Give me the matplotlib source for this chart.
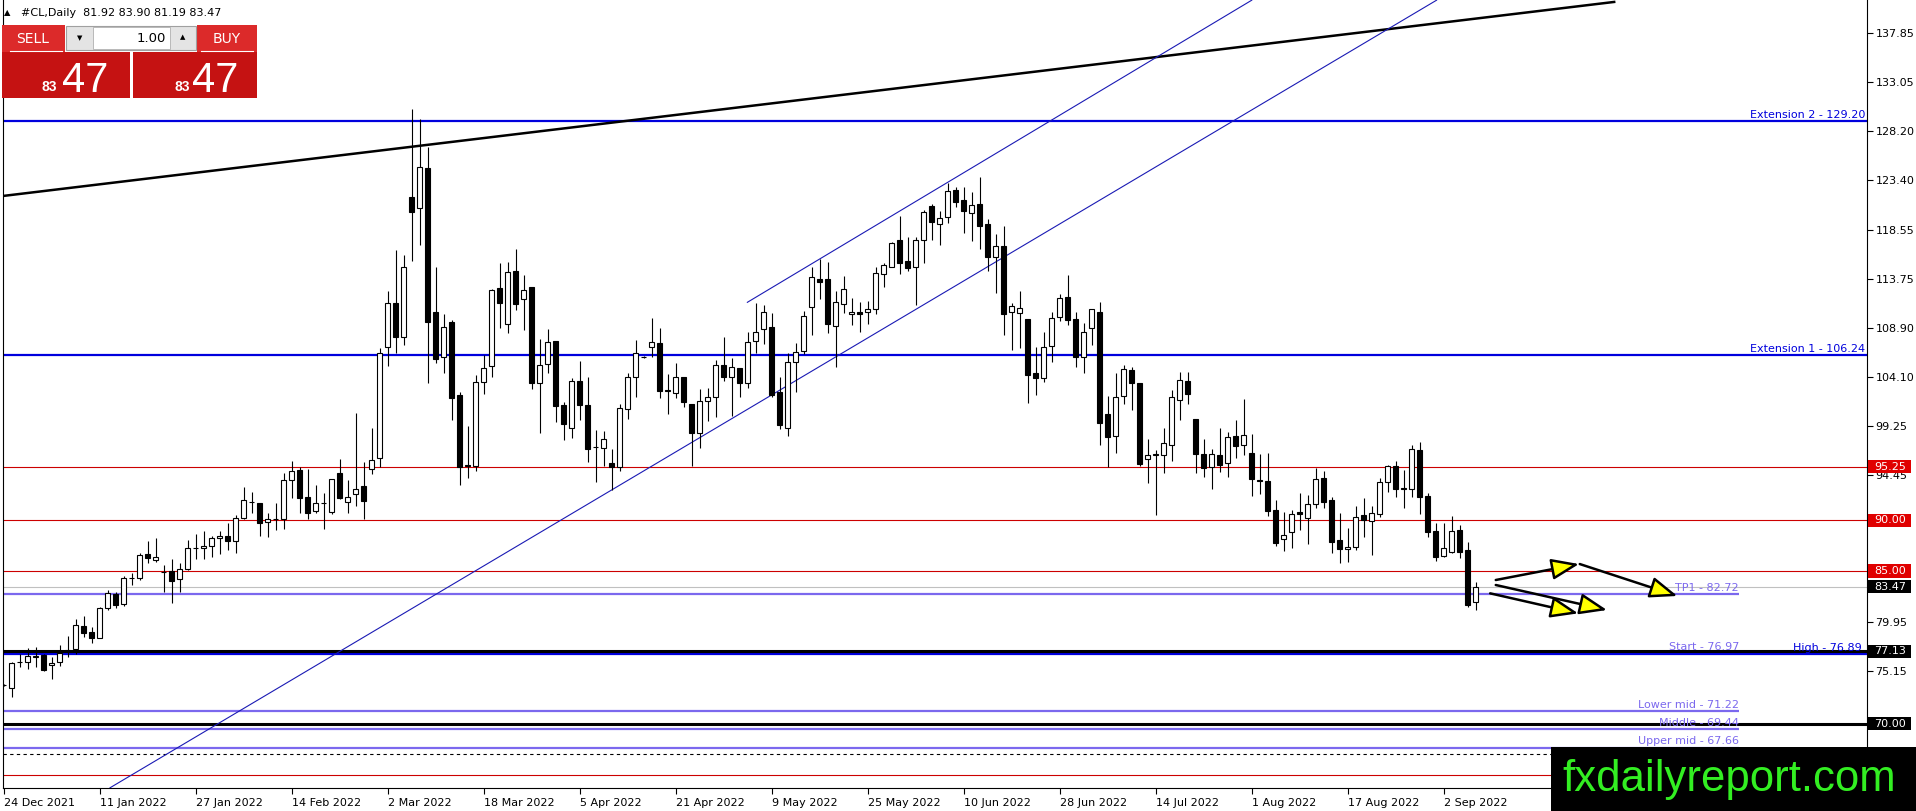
import numpy as np
import pandas as pd
import matplotlib
matplotlib.use('Agg')
import matplotlib.pyplot as plt
from matplotlib.patches import Rectangle, FancyArrowPatch
from matplotlib.transforms import blended_transform_factory

# daily bars of #CL, 24 Dec 2021 .. 8 Sep 2022
dates = pd.bdate_range('2021-12-24', '2022-09-08')

opens = [73.80, 73.48, 76.05, 76.10, 76.60, 76.72, 75.74, 76.10, 77.20, 77.31,
         79.64, 78.98, 78.46, 81.34, 82.75, 81.77, 84.33, 84.36, 86.68, 86.09,
         84.90, 85.01, 84.19, 85.24, 87.28, 87.30, 87.50, 88.22, 88.45, 87.99,
         90.19, 91.82, 91.66, 89.86, 90.07, 90.09, 93.95, 94.93, 92.30, 90.90,
         91.68, 90.84, 94.60, 91.75, 92.54, 93.36, 95.00, 96.08, 107.05, 111.31,
         107.97, 121.73, 120.65, 124.58, 110.43, 106.00, 109.44, 102.30, 95.38, 95.36,
         103.61, 105.15, 112.79, 109.25, 114.49, 111.74, 112.88, 103.45, 105.35, 107.61,
         101.32, 99.03, 103.68, 101.32, 97.20, 97.13, 95.59, 95.26, 100.90, 104.10,
         106.00, 107.05, 107.38, 102.78, 102.53, 104.04, 101.42, 98.60, 101.74, 102.14,
         105.25, 104.04, 104.92, 103.51, 107.61, 108.76, 109.02, 102.56, 99.03, 105.58,
         106.66, 110.98, 113.67, 113.67, 109.08, 111.25, 110.23, 110.43, 110.43, 110.72,
         114.20, 114.91, 117.53, 115.47, 114.85, 117.53, 120.88, 119.07, 119.76, 122.45,
         121.47, 120.16, 121.07, 119.11, 115.90, 116.95, 110.43, 110.33, 109.74, 104.43,
         104.00, 107.15, 110.00, 111.97, 109.74, 106.00, 108.85, 110.49, 100.40, 98.27,
         102.24, 104.76, 103.45, 95.98, 96.45, 96.40, 97.39, 101.81, 103.71, 99.91,
         96.51, 95.20, 96.41, 95.59, 98.28, 97.36, 96.57, 93.90, 93.85, 91.00,
         88.12, 88.87, 90.77, 90.19, 91.56, 94.12, 91.99, 88.02, 87.14, 87.34,
         90.48, 89.92, 90.58, 93.72, 95.36, 93.12, 93.10, 96.87, 92.38, 88.94,
         86.52, 86.91, 89.04, 87.07, 81.92]

highs = [73.90, 76.10, 76.86, 77.41, 77.58, 76.85, 76.59, 77.74, 78.62, 80.33,
         80.59, 79.48, 81.51, 83.14, 82.98, 84.52, 84.85, 86.75, 87.93, 88.26,
         85.60, 86.16, 85.77, 88.06, 88.65, 88.94, 88.45, 88.94, 89.76, 90.51,
         93.23, 92.74, 91.70, 90.68, 91.73, 94.67, 95.82, 95.26, 95.00, 93.46,
         92.70, 94.05, 96.01, 93.95, 100.57, 95.75, 99.03, 106.89, 112.56, 116.55,
         116.06, 130.38, 129.39, 126.71, 114.85, 110.23, 109.67, 102.56, 99.26, 104.27,
         106.23, 112.69, 115.24, 115.41, 116.62, 114.10, 112.88, 107.77, 108.79, 107.61,
         101.65, 103.94, 105.64, 104.10, 98.86, 98.76, 96.96, 101.42, 104.50, 107.71,
         106.10, 109.84, 108.85, 104.37, 105.41, 104.04, 101.42, 102.86, 103.02, 105.74,
         107.97, 105.91, 104.92, 108.53, 111.31, 111.15, 110.39, 104.10, 106.40, 107.45,
         110.59, 114.85, 115.63, 115.41, 112.52, 114.03, 111.87, 111.41, 111.57, 114.85,
         115.24, 117.37, 119.93, 117.80, 117.80, 120.48, 121.07, 120.39, 123.17, 122.78,
         122.71, 122.28, 123.69, 119.57, 118.12, 118.91, 111.31, 112.52, 109.74, 107.05,
         108.53, 110.49, 112.23, 114.10, 110.43, 109.35, 110.72, 111.47, 102.20, 104.50,
         105.25, 105.09, 103.45, 97.94, 96.90, 99.03, 102.79, 104.60, 104.60, 99.91,
         97.95, 96.97, 99.03, 98.70, 99.85, 101.91, 98.47, 96.51, 96.64, 91.99,
         90.84, 91.00, 92.71, 92.48, 95.10, 94.84, 92.25, 90.68, 89.20, 91.43,
         92.15, 91.40, 94.18, 95.43, 95.82, 94.98, 97.39, 97.69, 92.71, 89.76,
         89.76, 90.41, 89.53, 87.83, 83.90]

lows = [73.70, 72.66, 75.61, 75.42, 75.55, 75.22, 74.37, 75.68, 76.59, 76.82,
        78.56, 77.90, 78.40, 81.18, 81.34, 81.57, 83.64, 84.13, 85.83, 85.93,
        82.95, 81.90, 82.95, 85.11, 86.22, 86.19, 86.35, 86.68, 87.07, 86.81,
        90.16, 90.74, 88.48, 88.38, 89.04, 89.14, 92.15, 90.67, 90.12, 90.67,
        89.10, 90.60, 92.05, 90.67, 91.43, 90.12, 94.50, 95.26, 105.18, 106.46,
        107.22, 115.47, 117.04, 103.51, 105.48, 104.50, 99.84, 93.46, 94.11, 94.86,
        102.40, 104.04, 108.85, 108.36, 110.66, 108.69, 102.86, 98.53, 104.50, 99.68,
        97.88, 98.04, 99.84, 95.75, 93.79, 95.32, 92.97, 94.87, 99.91, 102.14,
        105.90, 106.00, 101.97, 100.43, 101.97, 101.09, 95.32, 97.06, 99.78, 100.17,
        103.71, 100.24, 102.07, 102.96, 106.46, 107.28, 102.14, 98.93, 98.27, 102.63,
        106.30, 108.20, 111.70, 108.43, 105.09, 110.33, 109.18, 108.53, 109.28, 110.26,
        112.88, 114.85, 114.20, 114.52, 111.15, 115.24, 117.53, 117.04, 119.24, 120.75,
        118.26, 117.47, 116.62, 114.52, 112.29, 108.20, 106.72, 106.89, 101.48, 102.30,
        103.61, 105.58, 109.61, 109.18, 105.09, 104.50, 107.22, 97.39, 95.26, 96.57,
        101.42, 100.83, 95.32, 93.69, 90.51, 94.60, 95.85, 99.84, 101.42, 94.60,
        94.28, 93.03, 94.77, 94.28, 96.08, 96.41, 92.38, 92.58, 90.41, 87.47,
        87.01, 87.30, 89.04, 87.66, 91.23, 91.17, 86.81, 85.76, 85.93, 87.07,
        88.38, 86.58, 90.35, 92.81, 92.31, 91.17, 92.31, 90.58, 88.38, 86.02,
        86.42, 86.81, 86.25, 81.50, 81.19]

closes = [73.80, 76.00, 76.10, 76.66, 76.62, 75.28, 76.00, 76.92, 77.25, 79.71,
          78.95, 78.46, 81.34, 82.82, 81.67, 84.29, 84.36, 86.58, 86.26, 86.42,
          84.88, 84.03, 85.18, 87.24, 87.30, 87.50, 88.22, 88.45, 87.99, 90.19,
          91.99, 91.79, 89.76, 90.09, 90.09, 93.95, 94.87, 92.15, 90.67, 91.66,
          91.66, 94.01, 92.21, 92.25, 93.03, 91.92, 95.91, 106.40, 111.38, 108.04,
          114.91, 120.32, 124.74, 109.51, 105.81, 109.02, 101.97, 95.26, 95.36, 103.61,
          104.92, 112.62, 111.38, 114.36, 111.21, 112.62, 103.45, 105.25, 107.48, 101.22,
          99.42, 103.68, 101.32, 96.96, 97.22, 97.94, 95.26, 101.00, 104.10, 106.40,
          106.00, 107.48, 102.73, 102.73, 104.04, 101.65, 98.60, 101.71, 102.07, 105.25,
          104.10, 105.09, 103.45, 107.54, 108.53, 110.49, 102.30, 99.35, 105.58, 106.56,
          110.10, 113.87, 113.44, 109.28, 111.47, 112.69, 110.49, 110.23, 110.72, 114.26,
          115.08, 117.21, 115.24, 114.75, 117.53, 120.32, 119.34, 119.73, 122.38, 121.30,
          120.42, 120.97, 118.91, 115.83, 116.98, 110.26, 111.05, 110.82, 104.27, 104.00,
          107.05, 109.84, 111.80, 109.67, 106.00, 108.53, 110.72, 99.58, 98.14, 102.14,
          104.82, 103.45, 95.52, 96.40, 96.50, 97.55, 102.07, 103.78, 102.37, 96.51,
          95.10, 96.47, 95.43, 98.15, 97.33, 98.34, 94.08, 93.85, 90.94, 87.73,
          88.51, 90.58, 90.58, 91.56, 94.02, 91.82, 87.89, 87.14, 87.34, 90.35,
          90.02, 90.74, 93.79, 95.36, 93.03, 93.10, 96.97, 92.31, 88.87, 86.42,
          87.24, 88.94, 86.91, 81.67, 83.47]

price_ticks = [137.85, 133.05, 128.20, 123.40, 118.55, 113.75, 108.90, 104.10,
               99.25, 94.45, 89.60, 84.80, 79.95, 75.15, 70.30, 65.50]
hidden_ticks = [89.60, 84.80, 65.50]   # covered by level boxes / watermark

ext_levels = [129.20, 106.24]
ext_names = ['Extension 2', 'Extension 1']
red_levels = [95.25, 90.00, 85.00, 65.00]
black_levels = [77.13, 70.00]
fib_levels = [82.72, 76.97, 71.22, 69.44, 67.66]
fib_names = ['TP1', 'Start', 'Lower mid', 'Middle', 'Upper mid']
fib_end = 216.9
high_level = 76.89
dashed_level = 67.05
bid = closes[-1]

# drawing objects: (bar index, price)
trend_black = [(-0.1, 121.86), (201.3, 140.93)]
channel_low = [(13.3, 63.70), (179.1, 141.10)]
channel_up = [(92.96, 111.41), (156.0, 141.10)]
arrows = [((186.5, 84.12), (196.9, 85.69)),
          ((197.0, 85.69), (209.2, 82.55)),
          ((186.5, 83.63), (200.4, 81.17)),
          ((185.8, 82.81), (196.8, 80.84))]

W, H = 1916, 811
fig = plt.figure(figsize=(W / 100, H / 100), dpi=100)
fig.patch.set_facecolor('white')
ax = fig.add_axes([3 / W, 23 / H, 1864 / W, 788 / H])
ax.set_xlim(-0.075, 232.9)
ax.set_ylim(63.68, 141.12)

x = np.arange(len(dates))
o = np.array(opens); c = np.array(closes)
hi = np.array(highs); lo = np.array(lows)
tr = blended_transform_factory(ax.transAxes, ax.transData)

# horizontal levels
for lv in red_levels:
    ax.axhline(lv, color='#cc0000', lw=0.8, zorder=1)
ax.axhline(bid, color='#c0c0c0', lw=0.8, zorder=1)
ax.axhline(dashed_level, color='black', lw=0.8, ls=(0, (3, 3)), zorder=1)
for lv, nm in zip(ext_levels, ext_names):
    ax.axhline(lv, color='#0000dd', lw=1.6, zorder=1)
    ax.text(0.999, lv + 0.1, f'{nm} - {lv:.2f}', transform=tr,
            ha='right', va='bottom', color='#0000dd', fontsize=8)
for lv, nm in zip(fib_levels, fib_names):
    ax.hlines(lv, -1, fib_end, color='#7b68ee', lw=1.6, zorder=1)
    ax.text(fib_end, lv + 0.1, f'{nm} - {lv:.2f}', ha='right', va='bottom', color='#7b68ee', fontsize=8)
ax.axhline(high_level, color='#0000dd', lw=1.6, zorder=1)
ax.text(0.997, high_level + 0.1, f'High - {high_level:.2f}', transform=tr,
        ha='right', va='bottom', color='#0000dd', fontsize=8)
for lv in black_levels:
    ax.axhline(lv, color='black', lw=2.2, zorder=1.5)

# trend lines
ax.plot(*zip(*trend_black), color='black', lw=1.8, zorder=1.5)
ax.plot(*zip(*channel_low), color='#1a1ab4', lw=0.8, zorder=1.5)
ax.plot(*zip(*channel_up), color='#1a1ab4', lw=0.8, zorder=1.5)

# candles
ax.vlines(x, lo, hi, color='black', lw=0.8, zorder=2)
up = c >= o
ax.bar(x, np.abs(c - o), bottom=np.minimum(o, c), width=0.6,
       color=np.where(up, 'white', 'black'), edgecolor='black', linewidth=0.8, zorder=3)

# arrows
for start, end in arrows:
    ax.add_patch(FancyArrowPatch(start, end, arrowstyle='-|>,head_length=1.3,head_width=0.5',
                                 mutation_scale=13, fc='#ffff00', ec='black', lw=1.8,
                                 shrinkA=0, shrinkB=0, zorder=4))

# axes styling
ax.spines['top'].set_visible(False)
for s in ['left', 'right', 'bottom']:
    ax.spines[s].set_color('black')
ax.yaxis.tick_right()
ax.set_yticks(price_ticks)
ax.set_yticklabels(['' if p in hidden_ticks else f'{p:.2f}' for p in price_ticks], fontsize=8)
ax.tick_params(axis='y', direction='out', length=4, pad=2, width=0.8)
xt = list(range(0, len(dates), 12))
ax.set_xticks(xt)
ax.set_xticklabels([f'{dates[i].day} {dates[i]:%b %Y}' for i in xt], fontsize=8, ha='left')
ax.tick_params(axis='x', direction='out', length=4, pad=3, width=0.8)

# price boxes on the axis
bw = 43 / 1864
bh = 1.3
boxes = [(lv, '#e00000') for lv in red_levels[:3]] + [(bid, 'black')] + [(lv, 'black') for lv in black_levels]
for lv, col in boxes:
    ax.add_patch(Rectangle((1.0008, lv - bh / 2), bw, bh, transform=tr, facecolor=col,
                           edgecolor='none', clip_on=False, zorder=10))
    ax.text(1.0008 + bw / 2, lv, f'{lv:.2f}', transform=tr, ha='center', va='center',
            color='white', fontsize=8, clip_on=False, zorder=11)

# overlay: header, one-click panel, watermark
ov = fig.add_axes([0, 0, 1, 1], zorder=10)
ov.set_xlim(0, W)
ov.set_ylim(H, 0)
ov.axis('off')

ov.text(4, 13, '▲', fontsize=6, va='center', ha='left')
ov.text(21, 13, f'#CL,Daily  {opens[-1]:.2f} {highs[-1]:.2f} {lows[-1]:.2f} {closes[-1]:.2f}',
        fontsize=8, va='center', ha='left')

red_top, red_bot = '#dc2a2a', '#c51212'
ov.add_patch(Rectangle((2, 25), 63, 27, facecolor=red_top, edgecolor='none'))
ov.add_patch(Rectangle((197, 25), 60, 27, facecolor=red_top, edgecolor='none'))
ov.add_patch(Rectangle((2, 52), 128, 46, facecolor=red_bot, edgecolor='none'))
ov.add_patch(Rectangle((133, 52), 124, 46, facecolor=red_bot, edgecolor='none'))
ov.plot([10, 62], [51, 51], color='white', lw=0.8)
ov.plot([201, 253], [51, 51], color='white', lw=0.8)
ov.add_patch(Rectangle((66, 26), 130, 24, facecolor='#e4e4e4', edgecolor='#a0a0a0', lw=0.8))
ov.add_patch(Rectangle((93, 27), 77, 22, facecolor='white', edgecolor='#b0b0b0', lw=0.6))
ov.text(80, 38, '▼', fontsize=5, ha='center', va='center')
ov.text(183, 37, '▲', fontsize=5, ha='center', va='center')
ov.text(166, 38, '1.00', fontsize=9.5, ha='right', va='center')
ov.text(33, 39, 'SELL', fontsize=10, color='white', ha='center', va='center')
ov.text(227, 39, 'BUY', fontsize=10, color='white', ha='center', va='center')
big, small = f'{bid:.2f}'.split('.')
for xs, xb in [(57, 62), (190, 192)]:
    ov.text(xs, 91, big, fontsize=10, fontweight='bold', color='white', ha='right', va='baseline',
            family='Liberation Sans')
    ov.text(xb, 92, small, fontsize=30, color='white', ha='left', va='baseline',
            family='Liberation Sans')

ov.add_patch(Rectangle((1551, 747), W - 1551, H - 747, facecolor='black', edgecolor='none'))
ov.text(1729, 791, 'fxdailyreport.com', fontsize=31.5, color='#33ee22', ha='center', va='baseline',
        family='Liberation Sans')

fig.savefig('out.png', dpi=100)
